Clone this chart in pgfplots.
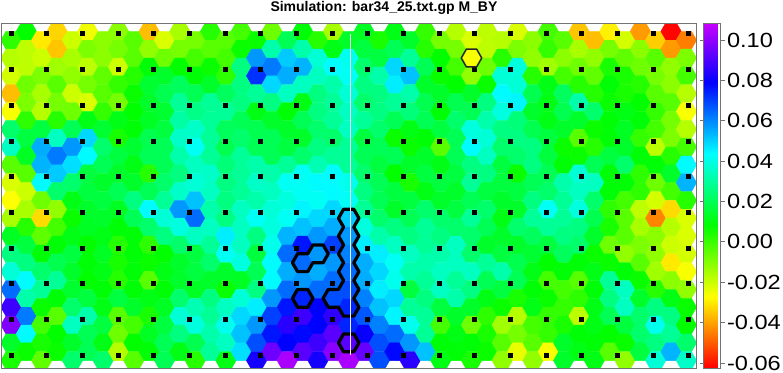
\documentclass[border=0pt]{standalone}
\usepackage{fontspec}
\setmainfont{Liberation Sans}
\usepackage{pgfplots}
\usepackage{pgfplotstable}
\pgfplotsset{compat=1.18}
\pgfdeclareplotmark{hex}{%
  \pgfpathmoveto{\pgfqpoint{10.23pt}{0pt}}%
  \pgfpathlineto{\pgfqpoint{5.12pt}{8.9pt}}%
  \pgfpathlineto{\pgfqpoint{-5.12pt}{8.9pt}}%
  \pgfpathlineto{\pgfqpoint{-10.23pt}{0pt}}%
  \pgfpathlineto{\pgfqpoint{-5.12pt}{-8.9pt}}%
  \pgfpathlineto{\pgfqpoint{5.12pt}{-8.9pt}}%
  \pgfpathclose
  \pgfusepathqfillstroke}
% values in thousandths; a row holds one value per hexagon column, 19 rows
\pgfplotstableread[header=false]{
2 8 -30 -33 -20 -25 -11 -11 -4 -36 -22 -15 -8 3 -4 -1 7 -7 20 9 3 -15 14 13 5 11 14 1 -8 -17 -22 -18 -17 -22 -11 -1 -4 -35 -36 -29 -21 -41 -34 -62 -45
-17 -18 -20 -35 -15 -9 -11 -8 -4 -12 -7 -8 -1 -4 -1 7 58 32 51 32 38 11 41 17 17 20 29 3 8 -8 -26 -18 3 -9 -12 1 -11 -15 -12 -8 -5 -11 -4 -41 -9
-21 -18 -9 -14 -12 -18 -5 -20 3 9 14 8 9 7 2 26 72 62 55 54 35 44 42 23 32 49 52 20 7 -1 -12 -7 38 39 3 -14 -1 -7 -5 5 5 -7 -8 -12 -1
-36 -7 -15 -4 -20 -8 -4 1 7 15 19 21 20 14 21 26 29 49 35 35 26 32 38 26 26 46 32 14 14 8 14 7 44 38 19 11 21 3 3 9 5 3 -4 -11 -17
-26 -9 -17 -8 -7 -22 1 -8 8 14 15 29 27 29 29 26 11 26 9 11 26 29 35 23 26 29 25 19 9 19 20 26 39 45 14 11 19 32 23 7 11 8 1 -4 -26
23 2 17 3 20 11 15 11 9 13 17 31 36 29 21 20 19 14 14 20 23 29 35 29 23 20 11 20 17 23 39 32 26 25 19 11 14 14 7 9 13 9 -1 -8 -17
35 17 55 35 58 49 23 5 15 19 20 36 42 29 19 23 20 20 17 14 26 23 29 17 20 7 7 9 -4 20 44 38 23 26 26 17 7 -4 3 9 14 1 -18 -9 -1
-4 13 54 62 48 44 20 17 11 20 20 32 35 29 25 29 32 20 29 23 33 29 29 20 17 20 14 14 11 20 26 35 17 23 26 17 9 7 20 17 23 9 9 3 44
-22 -4 44 51 23 17 14 14 14 3 23 26 38 36 26 29 36 32 42 42 44 44 41 23 20 8 5 17 17 17 29 26 17 7 20 20 32 38 35 9 9 2 -7 14 54
-27 -20 -7 23 11 17 17 20 26 20 29 36 52 35 26 29 32 35 39 42 42 44 42 26 20 17 17 11 14 14 20 17 14 17 26 23 29 35 23 9 -1 2 -21 -1 3
-15 -15 -32 -12 7 14 14 13 20 44 38 58 64 32 26 35 42 38 42 45 49 49 51 29 23 14 20 23 23 17 29 23 11 14 29 42 29 39 19 2 -4 -18 -44 -32 -22
13 3 -5 -1 11 13 11 9 9 23 26 39 35 35 46 35 26 39 54 52 58 55 58 39 32 26 26 29 26 23 23 20 14 23 21 29 26 26 14 5 -4 -15 -11 -17 -22
26 17 9 9 17 8 13 3 9 2 8 23 17 29 42 35 17 41 64 76 58 70 61 46 46 35 35 29 32 35 23 14 17 14 15 17 21 23 7 -7 -12 -9 -12 -20 -21
38 26 23 19 14 9 11 5 9 7 11 14 17 23 14 39 20 44 55 64 55 58 64 55 49 42 32 32 35 35 35 29 32 19 11 8 9 9 11 7 9 -4 -14 -30 -26
64 44 29 29 15 8 9 3 9 -4 9 14 13 14 7 13 26 44 64 58 64 64 68 55 46 41 17 29 35 29 26 20 17 20 9 -1 -1 -4 9 29 35 7 3 -11 -12
88 32 7 9 23 17 11 17 14 11 13 23 33 26 35 38 46 58 76 74 79 68 74 61 52 49 29 26 17 32 14 11 7 5 11 7 1 2 11 26 35 14 26 11 7
98 62 -1 -4 35 32 17 -4 -1 5 17 38 39 29 41 49 58 70 85 88 79 86 74 67 61 45 41 29 -1 14 -7 2 -14 -17 -1 1 5 -18 11 20 17 23 41 26 8
14 44 5 8 14 20 11 -7 8 13 20 26 19 32 35 52 68 76 79 78 88 92 92 80 68 64 58 29 9 11 9 5 -4 -8 -4 1 14 9 9 8 7 23 26 29 23
5 7 -5 7 23 20 23 -17 -4 9 20 11 3 29 11 48 82 95 104 92 82 99 104 94 68 78 85 52 11 9 5 7 -12 -24 -12 -26 14 11 11 -4 -12 17 38 54 36
}\hexdata
\pgfplotstableread[header=false]{
33.7
69.5
105.2
141
176.7
212.4
248.1
283.9
319.6
355.3
}\dotrows
\definecolor{framec}{gray}{0.45}
\begin{document}
\begin{tikzpicture}
\useasboundingbox (-1.5pt,-4pt) rectangle (781.5pt,368pt);
\begin{axis}[
  at={(0pt,0pt)}, anchor=south west,
  scale only axis, width=695pt, height=345pt,
  xmin=1.5, xmax=696.5, ymin=23, ymax=368, y dir=reverse,
  xtick=\empty, ytick=\empty,
  axis on top,
  clip marker paths=true,
  axis line style={draw=framec, line width=0.9pt},
  title={Simulation: bar34\_25.txt.gp M\_BY},
  title style={at={(0.5503,1)}, anchor=base, yshift=6pt, inner sep=0pt,
    font=\bfseries\fontsize{14}{16}\selectfont},
  point meta min=-0.0625, point meta max=0.1084,
  colormap={hexmap}{rgb255(0cm)=(255,0,0); rgb255(60cm)=(255,255,0); rgb255(120cm)=(0,255,0);
    rgb255(180cm)=(0,255,255); rgb255(240cm)=(0,0,255); rgb255(290cm)=(200,0,255)},
  colorbar,
  colorbar style={
    at={(parent axis.north east)}, anchor=north west, xshift=-1.5pt,
    width=17pt, height=345pt,
    ytick={-0.06,-0.04,-0.02,0,0.02,0.04,0.06,0.08,0.10},
    yticklabels={-0.06,-0.04,-0.02,0.00,0.02,0.04,0.06,0.08,0.10},
    ytick align=outside, major tick length=4pt,
    tick style={draw=framec, line width=0.9pt},
    axis line style={draw=framec, line width=0.9pt},
    yticklabel style={font=\fontsize{20.5}{22}\selectfont, inner sep=0pt, anchor=west, xscale=1.15, xshift=2pt},
  },
]
\pgfplotsinvokeforeach{0,...,44}{
  \addplot[scatter, scatter src=explicit, only marks, mark=hex, line width=0.3pt,
    scatter/use mapped color={draw=mapped color, fill=mapped color}]
    table[x expr={11+15.35*#1}, y expr={\coordindex*17.8+40.2-8.9*mod(#1,2)},
          meta expr={\thisrowno{#1}/1000}] {\hexdata};
}
\pgfplotsinvokeforeach{0,...,19}{
  \addplot[only marks, mark=square*, mark size=2pt, black, mark options={line width=0pt}]
    table[x expr={11+35.68*#1}, y index=0] {\dotrows};
}
\addplot[black, line width=3.2pt, line join=round] coordinates {
 (343.58,209.3) (353.82,209.3) (358.93,218.2) (353.82,227.1) (358.93,236) (353.82,244.9) (358.93,253.8) (353.82,262.7) (358.93,271.6) (353.82,280.5) (358.93,289.4) (353.82,298.3) (358.93,307.2) (353.82,316.1) (343.58,316.1) (338.47,307.2) (328.23,307.2) (323.12,298.3) (328.23,289.4) (338.47,289.4) (343.58,280.5) (338.47,271.6) (343.58,262.7) (338.47,253.8) (343.58,244.9) (338.47,236) (343.58,227.1) (338.47,218.2)} -- cycle;
\addplot[black, line width=3.2pt, line join=round] coordinates {
 (297.53,253.8) (307.77,253.8) (312.88,244.9) (323.12,244.9) (328.23,253.8) (323.12,262.7) (312.88,262.7) (307.77,271.6) (297.53,271.6) (292.42,262.7)} -- cycle;
\addplot[black, line width=3.2pt, line join=round] coordinates {
 (297.53,289.4) (307.77,289.4) (312.88,298.3) (307.77,307.2) (297.53,307.2) (292.42,298.3)} -- cycle;
\addplot[black, line width=3.2pt, line join=round] coordinates {
 (343.58,333.9) (353.82,333.9) (358.93,342.8) (353.82,351.7) (343.58,351.7) (338.47,342.8)} -- cycle;
\addplot[black!85, line width=1.5pt, line join=round] coordinates {
 (466.38,49.1) (476.62,49.1) (481.73,58) (476.62,66.9) (466.38,66.9) (461.27,58)} -- cycle;
\addplot[white!90!gray, line width=1.2pt] coordinates {(350.3,33.5) (350.3,355)};
\end{axis}
\end{tikzpicture}
\end{document}
